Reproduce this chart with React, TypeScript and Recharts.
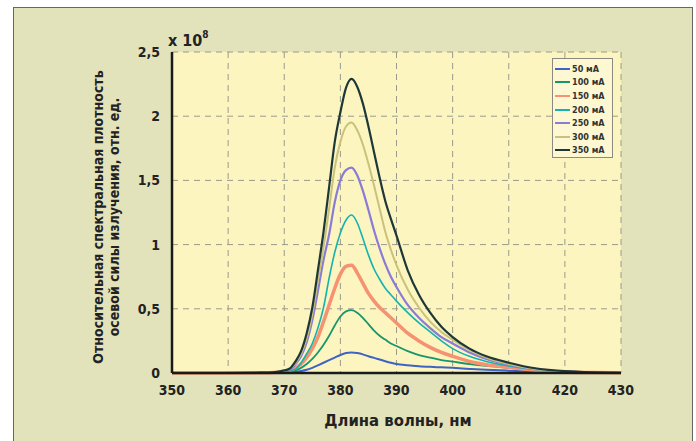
import { LineChart, Line, XAxis, YAxis, CartesianGrid } from 'recharts';

// длина волны, нм
const wavelengths = [350, 360, 365, 368, 370, 371, 372, 373, 374, 375, 376, 377, 378, 379, 380, 381, 382, 383, 384, 385, 386, 387, 388, 389, 390, 392, 394, 396, 398, 400, 403, 406, 410, 415, 420, 425, 430];

// values, x 10^8
const i50 = [0, 0, 0, 0.001, 0.002, 0.004, 0.008, 0.015, 0.025, 0.04, 0.06, 0.08, 0.1, 0.12, 0.14, 0.155, 0.16, 0.155, 0.145, 0.13, 0.118, 0.105, 0.092, 0.08, 0.07, 0.06, 0.053, 0.048, 0.044, 0.04, 0.032, 0.025, 0.018, 0.01, 0.005, 0.002, 0.001];
const i100 = [0, 0, 0.001, 0.002, 0.005, 0.01, 0.02, 0.04, 0.07, 0.11, 0.16, 0.22, 0.29, 0.37, 0.44, 0.48, 0.49, 0.47, 0.43, 0.38, 0.33, 0.29, 0.26, 0.23, 0.21, 0.17, 0.14, 0.12, 0.1, 0.088, 0.07, 0.055, 0.04, 0.02, 0.01, 0.004, 0.002];
const i150 = [0, 0, 0.001, 0.004, 0.01, 0.02, 0.04, 0.07, 0.12, 0.19, 0.28, 0.4, 0.53, 0.66, 0.77, 0.83, 0.84, 0.78, 0.7, 0.62, 0.56, 0.51, 0.47, 0.43, 0.39, 0.31, 0.25, 0.2, 0.16, 0.13, 0.09, 0.065, 0.045, 0.02, 0.008, 0.003, 0.001];
const i200 = [0, 0, 0.001, 0.003, 0.01, 0.018, 0.03, 0.08, 0.15, 0.23, 0.35, 0.51, 0.74, 0.94, 1.09, 1.19, 1.23, 1.17, 1.05, 0.92, 0.81, 0.73, 0.66, 0.61, 0.56, 0.47, 0.39, 0.32, 0.25, 0.19, 0.13, 0.09, 0.055, 0.025, 0.01, 0.004, 0.002];
const i250 = [0, 0, 0.002, 0.004, 0.015, 0.025, 0.07, 0.13, 0.24, 0.41, 0.64, 0.88, 1.08, 1.33, 1.5, 1.58, 1.6, 1.54, 1.42, 1.27, 1.11, 0.97, 0.85, 0.75, 0.67, 0.53, 0.43, 0.35, 0.28, 0.23, 0.16, 0.11, 0.065, 0.03, 0.012, 0.004, 0.002];
const i300 = [0, 0, 0.002, 0.005, 0.018, 0.03, 0.08, 0.15, 0.27, 0.46, 0.72, 0.98, 1.28, 1.6, 1.8, 1.92, 1.95, 1.89, 1.78, 1.63, 1.46, 1.28, 1.1, 0.96, 0.84, 0.65, 0.51, 0.4, 0.32, 0.26, 0.18, 0.12, 0.07, 0.03, 0.012, 0.004, 0.002];
const i350 = [0, 0, 0.002, 0.005, 0.02, 0.035, 0.09, 0.17, 0.31, 0.51, 0.8, 1.1, 1.45, 1.8, 2.03, 2.22, 2.29, 2.23, 2.1, 1.92, 1.72, 1.52, 1.34, 1.2, 1.07, 0.8, 0.61, 0.47, 0.36, 0.28, 0.19, 0.13, 0.08, 0.035, 0.014, 0.005, 0.002];

const xTicks = [350, 360, 370, 380, 390, 400, 410, 420, 430];
const yTicks = [0, 0.5, 1, 1.5, 2, 2.5];

const series = [
  { key: 'i50', name: '50 мА', values: i50, color: '#3d63c4', width: 2 },
  { key: 'i100', name: '100 мА', values: i100, color: '#17956b', width: 1.8 },
  { key: 'i150', name: '150 мА', values: i150, color: '#f59272', width: 3.5 },
  { key: 'i200', name: '200 мА', values: i200, color: '#15b2b0', width: 1.6 },
  { key: 'i250', name: '250 мА', values: i250, color: '#8a7cd6', width: 2.2 },
  { key: 'i300', name: '300 мА', values: i300, color: '#c8c27a', width: 2 },
  { key: 'i350', name: '350 мА', values: i350, color: '#1e3838', width: 2.2 },
];

const data = wavelengths.map((wl, i) => {
  const row: Record<string, number> = { wl };
  series.forEach(s => { row[s.key] = s.values[i]; });
  return row;
});

const font = "'Liberation Sans Narrow', 'DejaVu Sans Condensed', 'Roboto', sans-serif";
const tickStyle = { fontSize: 14, fontWeight: 700, fill: '#222', fontFamily: font };

export default function App() {
  return (
    <div style={{ position: 'absolute', left: 0, top: 0, width: 696, height: 441, background: '#fff', overflow: 'hidden' }}>
      <div style={{ position: 'absolute', left: 13, top: 7, width: 678, height: 440, background: '#e3e3bb', border: '1.5px solid #666' }} />

      <div style={{ position: 'absolute', left: 0, top: 0 }}>
        <LineChart width={696} height={441} data={data} margin={{ top: 52, right: 75, bottom: 38, left: 132 }}>
          <CartesianGrid
            stroke="#9a9a8a"
            strokeDasharray="6 5"
            fill="#fcf5c0"
            fillOpacity={1}
            horizontalValues={yTicks}
            verticalValues={xTicks}
          />
          <XAxis
            type="number"
            dataKey="wl"
            domain={[350, 430]}
            ticks={xTicks}
            tickLine={false}
            axisLine={{ stroke: '#1a1a1a', strokeWidth: 2.5 }}
            tick={tickStyle}
            tickMargin={6}
            height={30}
            interval={0}
          />
          <XAxis xAxisId="top" orientation="top" type="number" dataKey="wl" domain={[350, 430]} tick={false} tickLine={false} axisLine={{ stroke: '#1a1a1a', strokeWidth: 2.5 }} height={0} />
          <YAxis
            type="number"
            domain={[0, 2.5]}
            ticks={yTicks}
            tickLine={false}
            axisLine={{ stroke: '#1a1a1a', strokeWidth: 2.5 }}
            tick={tickStyle}
            tickFormatter={(v: number) => String(v).replace('.', ',')}
            tickMargin={6}
            width={40}
            interval={0}
          />
          <YAxis yAxisId="right" orientation="right" domain={[0, 2.5]} tick={false} tickLine={false} axisLine={{ stroke: '#1a1a1a', strokeWidth: 2.5 }} width={0} />
          {series.map(s => (
            <Line
              key={s.key}
              type="monotone"
              dataKey={s.key}
              name={s.name}
              stroke={s.color}
              strokeWidth={s.width}
              dot={false}
              isAnimationActive={false}
            />
          ))}
        </LineChart>
      </div>

      <div style={{ position: 'absolute', left: 168, top: 31, fontFamily: font, fontWeight: 700, fontSize: 16, color: '#222' }}>
        x 10<sup style={{ fontSize: 10, position: 'relative', top: -2 }}>8</sup>
      </div>

      <div
        style={{
          position: 'absolute', left: 106, top: 217, width: 300, transform: 'translate(-50%, -50%) rotate(-90deg)',
          fontFamily: font, fontWeight: 700, fontSize: 14, lineHeight: '16px', color: '#222', textAlign: 'center', whiteSpace: 'nowrap',
        }}
      >
        <div>Относительная спектральная плотность</div>
        <div>осевой силы излучения, отн. ед.</div>
      </div>

      <div style={{ position: 'absolute', left: 398, top: 420, transform: 'translate(-50%, -50%)', fontFamily: font, fontWeight: 700, fontSize: 16.5, color: '#222', whiteSpace: 'nowrap' }}>
        Длина волны, нм
      </div>

      <div style={{ position: 'absolute', left: 552, top: 58, width: 61, height: 100, background: '#fdf8d2', border: '1.5px solid #8a8a80', padding: '3px 0 0 2px', boxSizing: 'border-box' }}>
        {series.map(s => (
          <div key={s.key} style={{ display: 'flex', alignItems: 'center', height: 13.6, fontFamily: font, fontWeight: 700, fontSize: 9, color: '#333', whiteSpace: 'nowrap' }}>
            <div style={{ width: 15, height: 2, background: s.color, marginRight: 2, flexShrink: 0 }} />
            <span>{s.name}</span>
          </div>
        ))}
      </div>
    </div>
  );
}
